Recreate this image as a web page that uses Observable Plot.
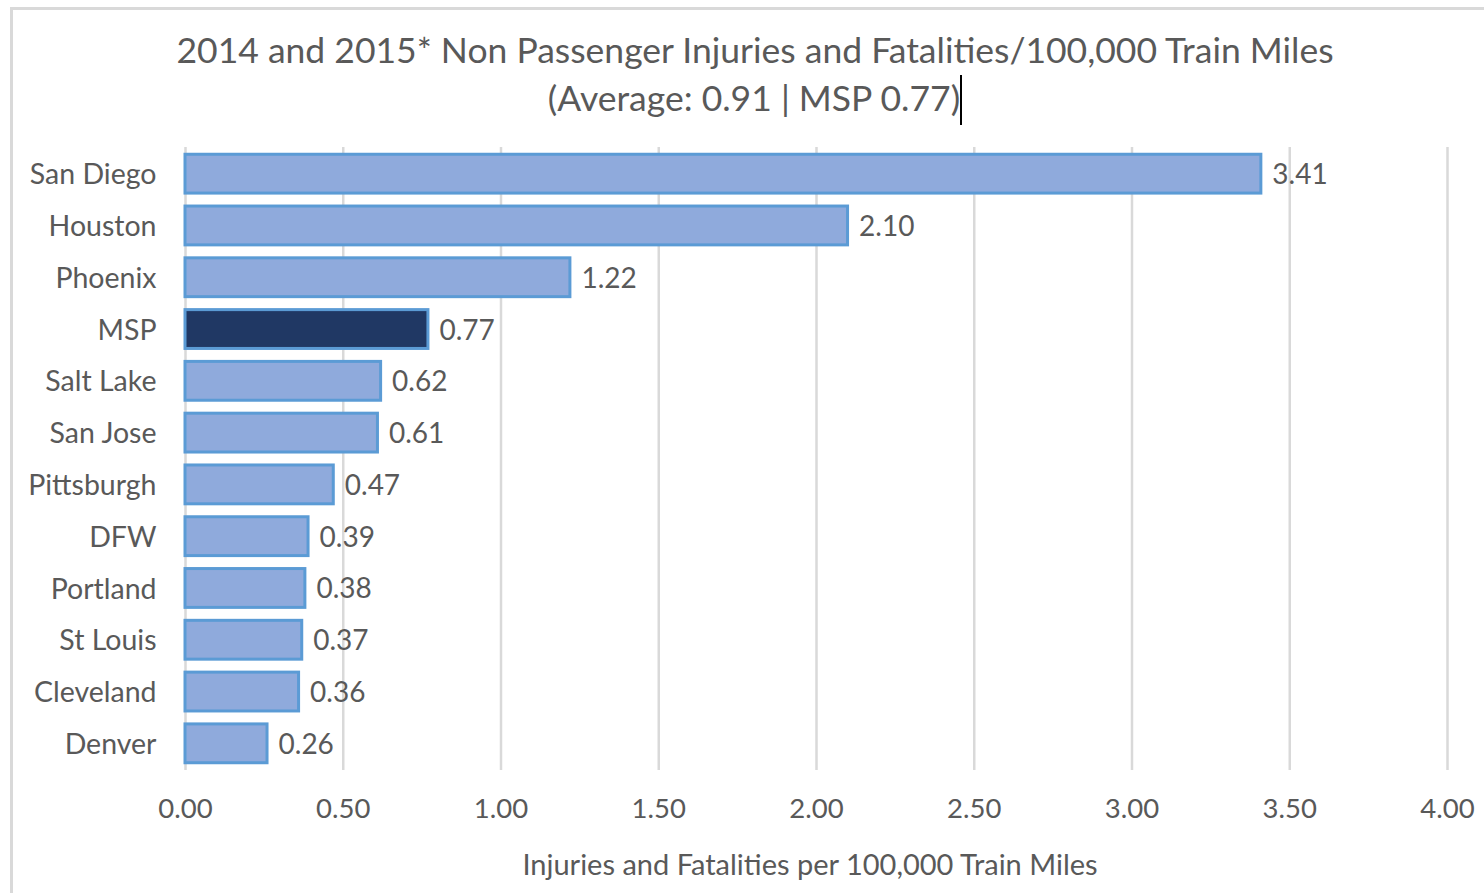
<!DOCTYPE html>
<html>
<head>
<meta charset="utf-8">
<script src="https://cdn.jsdelivr.net/npm/d3@7"></script>
<script src="https://cdn.jsdelivr.net/npm/@observablehq/plot@0.6"></script>
<style>
  html, body { margin: 0; padding: 0; background: #fff; }
  body { width: 1484px; height: 893px; overflow: hidden; position: relative; font-family: Lato, "Open Sans", sans-serif; }
  #frame { position: absolute; left: 10px; top: 7px; width: 1500px; height: 950px; border-top: 3px solid #d9d9d9; border-left: 3px solid #d9d9d9; box-sizing: border-box; }
  #title { position: absolute; left: 0; top: 26px; width: 1510px; text-align: center; color: #595959; font-size: 35.5px; line-height: 48px; }
  #cursor { display: inline-block; width: 0; height: 50px; border-left: 2.5px solid #000; vertical-align: -14px; }
  #chart { position: absolute; left: 0; top: 130px; }
  #xlabel { position: absolute; left: 0; width: 1620px; top: 846px; text-align: center; color: #595959; font-size: 29px; }
</style>
</head>
<body>
<div id="frame"></div>
<div id="title">2014 and 2015* Non Passenger Injuries and Fatalities/100,000 Train Miles<br>(Average: 0.91 | MSP 0.77)<span id="cursor"></span></div>
<div id="chart"></div>
<div id="xlabel">Injuries and Fatalities per 100,000 Train Miles</div>
<script>
const cities = ["San Diego", "Houston", "Phoenix", "MSP", "Salt Lake", "San Jose", "Pittsburgh", "DFW", "Portland", "St Louis", "Cleveland", "Denver"];
const values = [3.41, 2.10, 1.22, 0.77, 0.62, 0.61, 0.47, 0.39, 0.38, 0.37, 0.36, 0.26];
const highlight = "MSP";
const xTicks = [0, 0.5, 1, 1.5, 2, 2.5, 3, 3.5, 4];

const data = cities.map((c, i) => ({city: c, value: values[i]}));

const chart = Plot.plot({
  width: 1484,
  height: 763,
  marginLeft: 185,
  marginRight: 37,
  marginTop: 17,
  marginBottom: 123,
  style: {fontFamily: "Lato, 'Open Sans', sans-serif", color: "#595959", background: "transparent"},
  x: {domain: [0, 4], ticks: xTicks, tickFormat: d3.format(".2f"), label: null},
  y: {domain: cities, paddingInner: 0.25, paddingOuter: 0.14, round: false, label: null},
  marks: [
    Plot.gridX(xTicks, {stroke: "#d9d9d9", strokeWidth: 2.5, strokeOpacity: 1}),
    Plot.barX(data, {
      x: "value", y: "city",
      fill: d => d.city === highlight ? "#203864" : "#8faadc",
      stroke: "#5b9bd5", strokeWidth: 3
    }),
    Plot.text(data, {
      x: "value", y: "city", text: d => d.value.toFixed(2),
      textAnchor: "start", dx: 11, dy: 1, fill: "#595959", fontSize: 28
    }),
    Plot.axisX({ticks: xTicks, tickFormat: d3.format(".2f"), tickSize: 0, tickPadding: 28, fontSize: 27.5, fill: "#595959", label: null}),
    Plot.axisY({tickSize: 0, tickPadding: 29, dy: 1, fontSize: 28.5, fill: "#595959", label: null})
  ]
});
document.getElementById("chart").appendChild(chart);
</script>
</body>
</html>
